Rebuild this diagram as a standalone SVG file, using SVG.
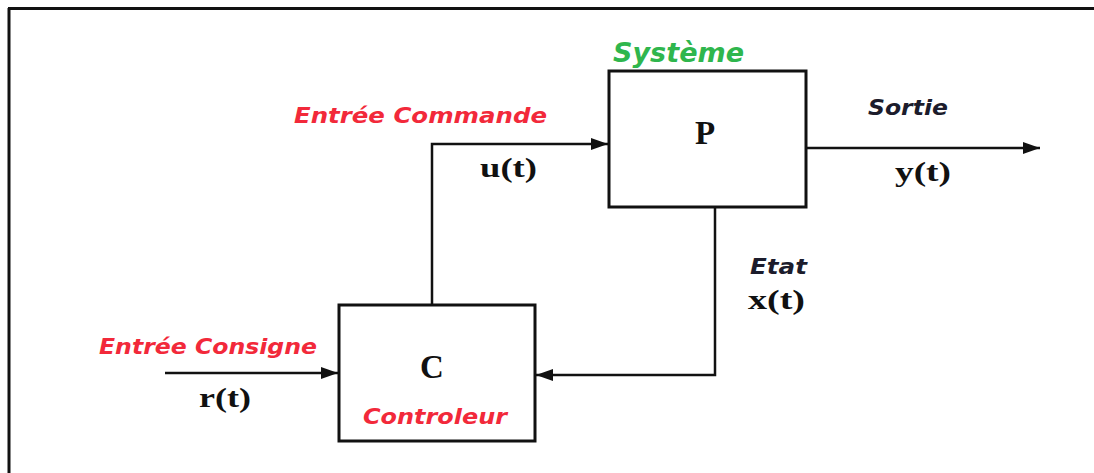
<svg xmlns="http://www.w3.org/2000/svg" width="1094" height="473" viewBox="0 0 1094 473">
  <defs>
    <marker id="arr" markerUnits="userSpaceOnUse" markerWidth="18" markerHeight="14" refX="17" refY="7" orient="auto">
      <path d="M0,1 L17,7 L0,13 Z" fill="#111"/>
    </marker>
    <style>
      .box { fill: #fff; stroke: #111; stroke-width: 3; }
      .wire { fill: none; stroke: #111; stroke-width: 2.5; }
      .lbl { font-family: "DejaVu Sans", Verdana, sans-serif; font-weight: bold; font-style: italic; }
      .red { fill: #f2293a; }
      .green { fill: #2fb64d; }
      .dark { fill: #1c1c2c; }
      .sig { font-family: "Liberation Serif", "Times New Roman", serif; font-weight: bold; fill: #111; }
    </style>
  </defs>
  <rect width="1094" height="473" fill="#fff"/>
  <g id="frame">
    <line x1="8" y1="8.5" x2="1094" y2="8.5" stroke="#111" stroke-width="3"/>
    <line x1="9" y1="8" x2="9" y2="473" stroke="#111" stroke-width="3"/>
  </g>
  <g id="connectors">
    <polyline class="wire" points="165,373 338,373" marker-end="url(#arr)"/>
    <polyline class="wire" points="432,305 432,144 608,144" marker-end="url(#arr)"/>
    <polyline class="wire" points="806,148 1040,148" marker-end="url(#arr)"/>
    <polyline class="wire" points="715,207 715,375 536,375" marker-end="url(#arr)"/>
  </g>
  <g id="node-P">
    <rect class="box" x="609" y="71" width="197" height="136"/>
    <text class="sig" x="705" y="144" font-size="33" text-anchor="middle">P</text>
    <text class="lbl green" x="613" y="62" font-size="26" textLength="131" lengthAdjust="spacingAndGlyphs">Système</text>
  </g>
  <g id="node-C">
    <rect class="box" x="339" y="305" width="196" height="136"/>
    <text class="sig" x="432" y="378" font-size="33" text-anchor="middle">C</text>
    <text class="lbl red" x="363" y="424" font-size="22" textLength="144" lengthAdjust="spacingAndGlyphs">Controleur</text>
  </g>
  <g id="labels">
    <text class="lbl red" x="294" y="123" font-size="22" textLength="253" lengthAdjust="spacingAndGlyphs">Entrée Commande</text>
    <text class="sig" x="480" y="177" font-size="28" textLength="57" lengthAdjust="spacingAndGlyphs">u(t)</text>
    <text class="lbl dark" x="868" y="115" font-size="22" textLength="80" lengthAdjust="spacingAndGlyphs">Sortie</text>
    <text class="sig" x="895" y="181" font-size="28" textLength="56" lengthAdjust="spacingAndGlyphs">y(t)</text>
    <text class="lbl dark" x="750" y="274" font-size="22" textLength="57" lengthAdjust="spacingAndGlyphs">Etat</text>
    <text class="sig" x="748" y="309" font-size="28" textLength="57" lengthAdjust="spacingAndGlyphs">x(t)</text>
    <text class="lbl red" x="99" y="354" font-size="22" textLength="218" lengthAdjust="spacingAndGlyphs">Entrée Consigne</text>
    <text class="sig" x="199" y="407" font-size="28" textLength="52" lengthAdjust="spacingAndGlyphs">r(t)</text>
  </g>
</svg>
